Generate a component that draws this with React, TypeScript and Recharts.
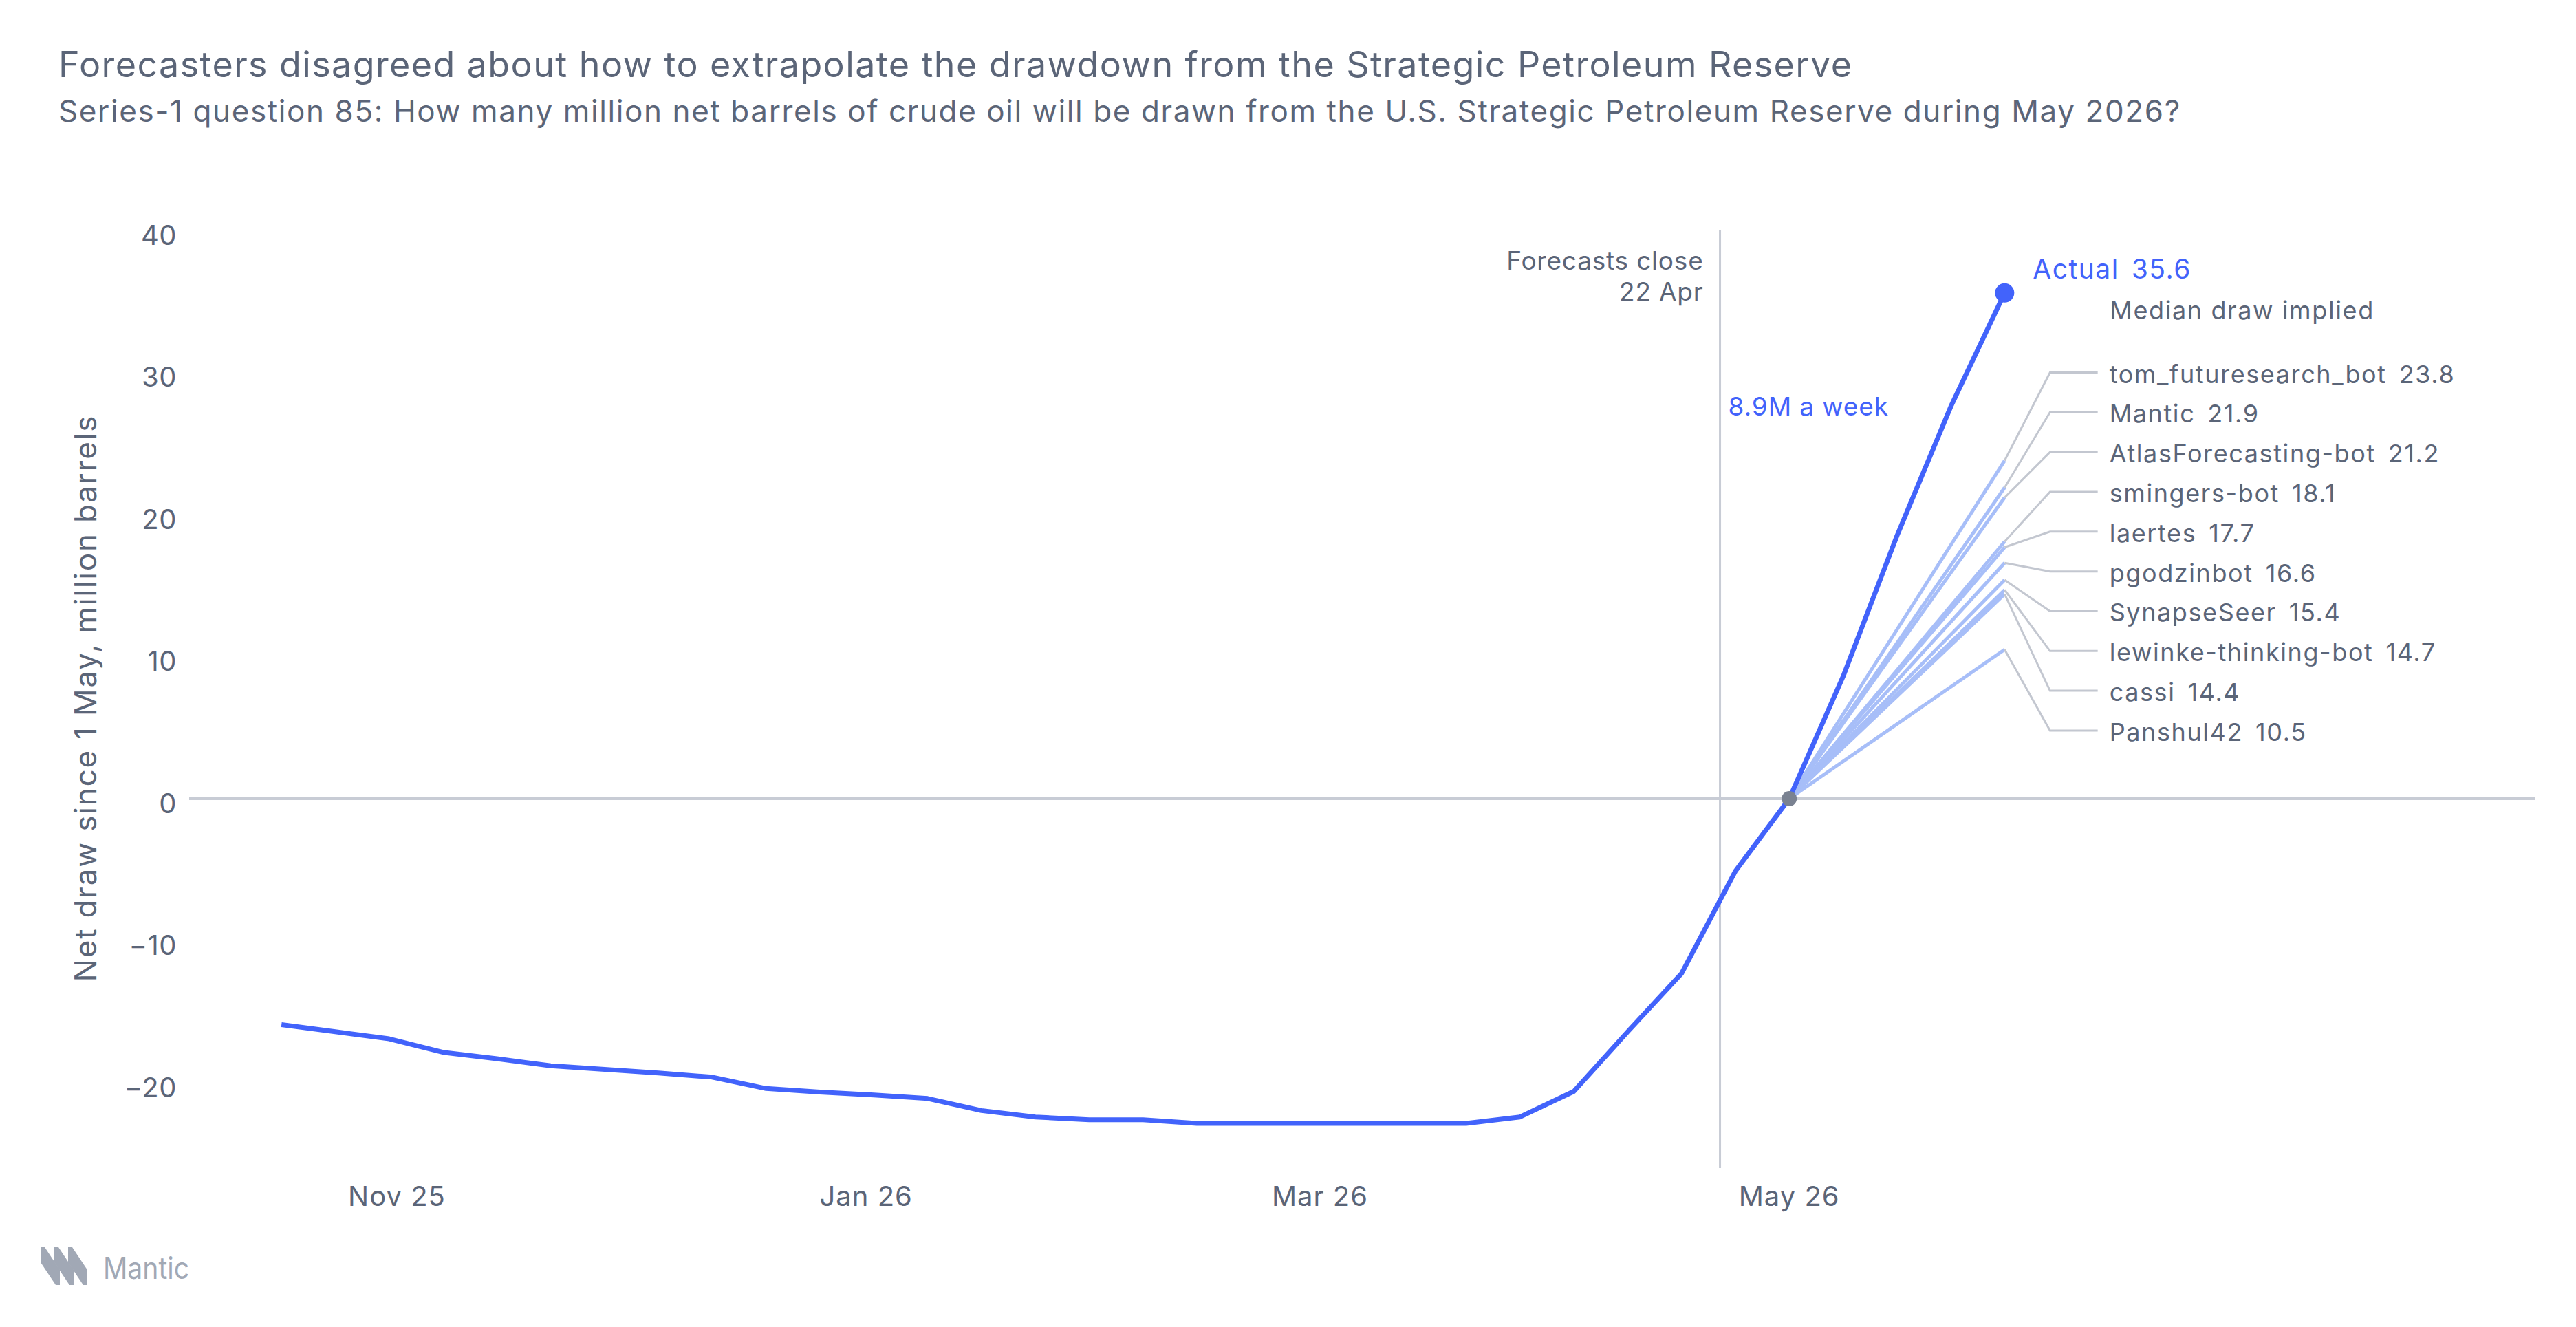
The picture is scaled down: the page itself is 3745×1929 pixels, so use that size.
import React from 'react';
import { LineChart, Line, XAxis, YAxis, ReferenceLine, ReferenceDot, LabelList } from 'recharts';

const FONT = 'Inter, "Noto Sans", sans-serif';
const TEXT = '#5b6578';
const BLUE = '#4263fb';
const LIGHT = '#a7bef8';
const GRID = '#c8ccd5';
const CONNECT = '#c3c7d0';
const ORIGIN = '#7a8291';
const LOGO = '#a1a8b5';

// weekly observations (Fridays)
const weekDates = [
  '2025-10-17', '2025-10-24', '2025-10-31', '2025-11-07', '2025-11-14', '2025-11-21', '2025-11-28',
  '2025-12-05', '2025-12-12', '2025-12-19', '2025-12-26', '2026-01-02', '2026-01-09', '2026-01-16',
  '2026-01-23', '2026-01-30', '2026-02-06', '2026-02-13', '2026-02-20', '2026-02-27', '2026-03-06',
  '2026-03-13', '2026-03-20', '2026-03-27', '2026-04-03', '2026-04-10', '2026-04-17', '2026-04-24',
  '2026-05-01', '2026-05-08', '2026-05-15', '2026-05-22', '2026-05-29',
];
const netDraw = [
  -15.9, -16.4, -16.9, -17.85, -18.3, -18.8, -19.05,
  -19.3, -19.6, -20.4, -20.65, -20.85, -21.1, -21.95,
  -22.4, -22.6, -22.6, -22.85, -22.85, -22.85, -22.85,
  -22.85, -22.85, -22.4, -20.6, -16.4, -12.3, -5.1,
  0, 8.6, 18.5, 27.6, 35.6,
];

const forecasters = [
  'tom_futuresearch_bot', 'Mantic', 'AtlasForecasting-bot', 'smingers-bot', 'laertes',
  'pgodzinbot', 'SynapseSeer', 'lewinke-thinking-bot', 'cassi', 'Panshul42',
];
const forecastValues = [23.8, 21.9, 21.2, 18.1, 17.7, 16.6, 15.4, 14.7, 14.4, 10.5];
// vertical slots (in axis units) where the forecaster labels sit
const labelSlots = [30.0, 27.2, 24.4, 21.6, 18.8, 16.0, 13.2, 10.4, 7.6, 4.8];

const xTickDates = ['2025-11-01', '2026-01-01', '2026-03-01', '2026-05-01'];
const xTickLabels = ['Nov 25', 'Jan 26', 'Mar 26', 'May 26'];
const yTicks = [-20, -10, 0, 10, 20, 30, 40];
const xDomainDates = ['2025-10-05', '2026-08-06'];
const yDomain = [-26, 40];

const forecastsCloseDate = '2026-04-22';
const forecastStartDate = '2026-05-01';
const resolutionDate = '2026-05-29';
const actualValue = 35.6;
const weeklyRateLabel = '8.9M a week';

const DAY = 86400000;
const ts = (s: string) => Date.parse(s + 'T00:00:00Z');
const ELBOW_DAYS = 5.9;
const END_DAYS = 12.1;

const mainData = weekDates.map((d, i) => ({ t: ts(d), v: netDraw[i] }));
const forecastData = forecastValues.map((val) => [
  { t: ts(forecastStartDate), v: 0 },
  { t: ts(resolutionDate), v: val },
]);
const connectorData = forecastValues.map((val, i) => [
  { t: ts(resolutionDate), v: val },
  { t: ts(resolutionDate) + ELBOW_DAYS * DAY, v: labelSlots[i] },
  { t: ts(resolutionDate) + END_DAYS * DAY, v: labelSlots[i] },
]);

const fmtY = (v: number) => (v < 0 ? '\u2212' + Math.abs(v) : String(v));

const YTick = (props: any) => {
  const { x, y, payload } = props;
  return (
    <text x={x - 10} y={y + 20.5} textAnchor="end" fill={TEXT} fontSize={40} fontFamily={FONT} letterSpacing={0.5}>
      {fmtY(payload.value)}
    </text>
  );
};

const XTick = (props: any) => {
  const { x, y, payload } = props;
  const idx = xTickDates.findIndex((d) => ts(d) === payload.value);
  return (
    <text x={x} y={y + 47} textAnchor="middle" fill={TEXT} fontSize={40} fontFamily={FONT} letterSpacing={1}>
      {idx >= 0 ? xTickLabels[idx] : ''}
    </text>
  );
};

const YLabel = (props: any) => {
  const vb = props.viewBox || { x: 0, y: 0, width: 0, height: 0 };
  const cx = vb.x + 140;
  const cy = vb.y + vb.height / 2 - 1.5;
  return (
    <text x={cx} y={cy} transform={`rotate(-90 ${cx} ${cy})`} textAnchor="middle" fill={TEXT} fontSize={44} fontFamily={FONT} letterSpacing={1.8}>
      Net draw since 1 May, million barrels
    </text>
  );
};

const CloseLabel = (props: any) => {
  const vb = props.viewBox || { x: 0, y: 0 };
  return (
    <g fontFamily={FONT}>
      <text x={vb.x - 24} y={vb.y + 57} textAnchor="end" fill={TEXT} fontSize={37} letterSpacing={0.8}>Forecasts close</text>
      <text x={vb.x - 24} y={vb.y + 102} textAnchor="end" fill={TEXT} fontSize={37} letterSpacing={0.8}>22 Apr</text>
      <text x={vb.x + 12} y={vb.y + 269} textAnchor="start" fill={BLUE} fontSize={37} letterSpacing={0.9}>{weeklyRateLabel}</text>
    </g>
  );
};

const ActualDot = (props: any) => {
  const { cx, cy, index } = props;
  if (index !== mainData.length - 1) return <g key={`d${index}`} />;
  return <circle key={`d${index}`} cx={cx} cy={cy} r={14} fill={BLUE} />;
};

const ActualLabel = (props: any) => {
  const { x, y, index } = props;
  if (index !== mainData.length - 1) return null;
  return (
    <g fontFamily={FONT}>
      <text x={x + 41} y={y - 21} fill={BLUE} fontSize={39} letterSpacing={1.5}>
        <tspan>Actual</tspan>
        <tspan dx={18}>{actualValue}</tspan>
      </text>
      <text x={x + 153} y={y + 38} fill={TEXT} fontSize={36} letterSpacing={1.6}>Median draw implied</text>
    </g>
  );
};

const makeConnectorLabel = (i: number) => (props: any) => {
  const { x, y, index } = props;
  if (index !== 2) return null;
  return (
    <text x={x + 17} y={y + 15} fill={TEXT} fontSize={36} fontFamily={FONT} letterSpacing={1.6}>
      <tspan>{forecasters[i]}</tspan>
      <tspan dx={18}>{forecastValues[i]}</tspan>
    </text>
  );
};

const Logo = () => (
  <g fill={LOGO}>
    {[59, 79, 99].map((x0) => (
      <polygon
        key={x0}
        points={`${x0},1813 ${x0 + 6},1813 ${x0 + 28},1846 ${x0 + 28},1868 ${x0 + 22},1868 ${x0},1835`}
      />
    ))}
    <text x={150} y={1859} fontSize={44} fontFamily={FONT} textLength={125} lengthAdjust="spacingAndGlyphs">Mantic</text>
  </g>
);

export default function App() {
  return (
    <div style={{ position: 'absolute', left: 0, top: 0, width: 3745, height: 1929, background: '#ffffff', overflow: 'hidden' }}>
      <div style={{ position: 'absolute', left: 0, top: 0 }}>
        <LineChart width={3745} height={1929} margin={{ top: 335, right: 59, bottom: 0, left: 0 }}>
          <XAxis
            type="number"
            dataKey="t"
            domain={[ts(xDomainDates[0]), ts(xDomainDates[1])]}
            ticks={xTickDates.map(ts)}
            interval={0}
            allowDataOverflow
            axisLine={false}
            tickLine={false}
            height={231}
            tick={<XTick />}
          />
          <YAxis
            type="number"
            domain={yDomain}
            ticks={yTicks}
            interval={0}
            allowDataOverflow
            axisLine={false}
            tickLine={false}
            width={275}
            tick={<YTick />}
            label={<YLabel />}
          />
          <ReferenceLine y={0} stroke={GRID} strokeWidth={4} />
          <ReferenceLine x={ts(forecastsCloseDate)} stroke={GRID} strokeWidth={3} label={<CloseLabel />} />
          {forecastData.map((d, i) => (
            <Line
              key={`f${i}`}
              data={d}
              dataKey="v"
              type="linear"
              stroke={LIGHT}
              strokeWidth={5}
              dot={false}
              activeDot={false}
              isAnimationActive={false}
            />
          ))}
          {connectorData.map((d, i) => (
            <Line
              key={`c${i}`}
              data={d}
              dataKey="v"
              type="linear"
              stroke={CONNECT}
              strokeWidth={3}
              dot={false}
              activeDot={false}
              isAnimationActive={false}
            >
              <LabelList dataKey="v" content={makeConnectorLabel(i)} />
            </Line>
          ))}
          <Line
            data={mainData}
            dataKey="v"
            type="linear"
            stroke={BLUE}
            strokeWidth={7}
            strokeLinejoin="round"
            dot={<ActualDot />}
            activeDot={false}
            isAnimationActive={false}
          >
            <LabelList dataKey="v" content={<ActualLabel />} />
          </Line>
          <ReferenceDot x={ts(forecastStartDate)} y={0} r={11} fill={ORIGIN} stroke="none" />
        </LineChart>
      </div>
      <svg width={3745} height={1929} style={{ position: 'absolute', left: 0, top: 0, pointerEvents: 'none' }}>
        <text x={85} y={112} fill={TEXT} fontSize={52} fontFamily={FONT} letterSpacing={1.4}>
          Forecasters disagreed about how to extrapolate the drawdown from the Strategic Petroleum Reserve
        </text>
        <text x={85} y={177} fill={TEXT} fontSize={44} fontFamily={FONT} letterSpacing={1.6}>
          Series-1 question 85: How many million net barrels of crude oil will be drawn from the U.S. Strategic Petroleum Reserve during May 2026?
        </text>
        <Logo />
      </svg>
    </div>
  );
}
